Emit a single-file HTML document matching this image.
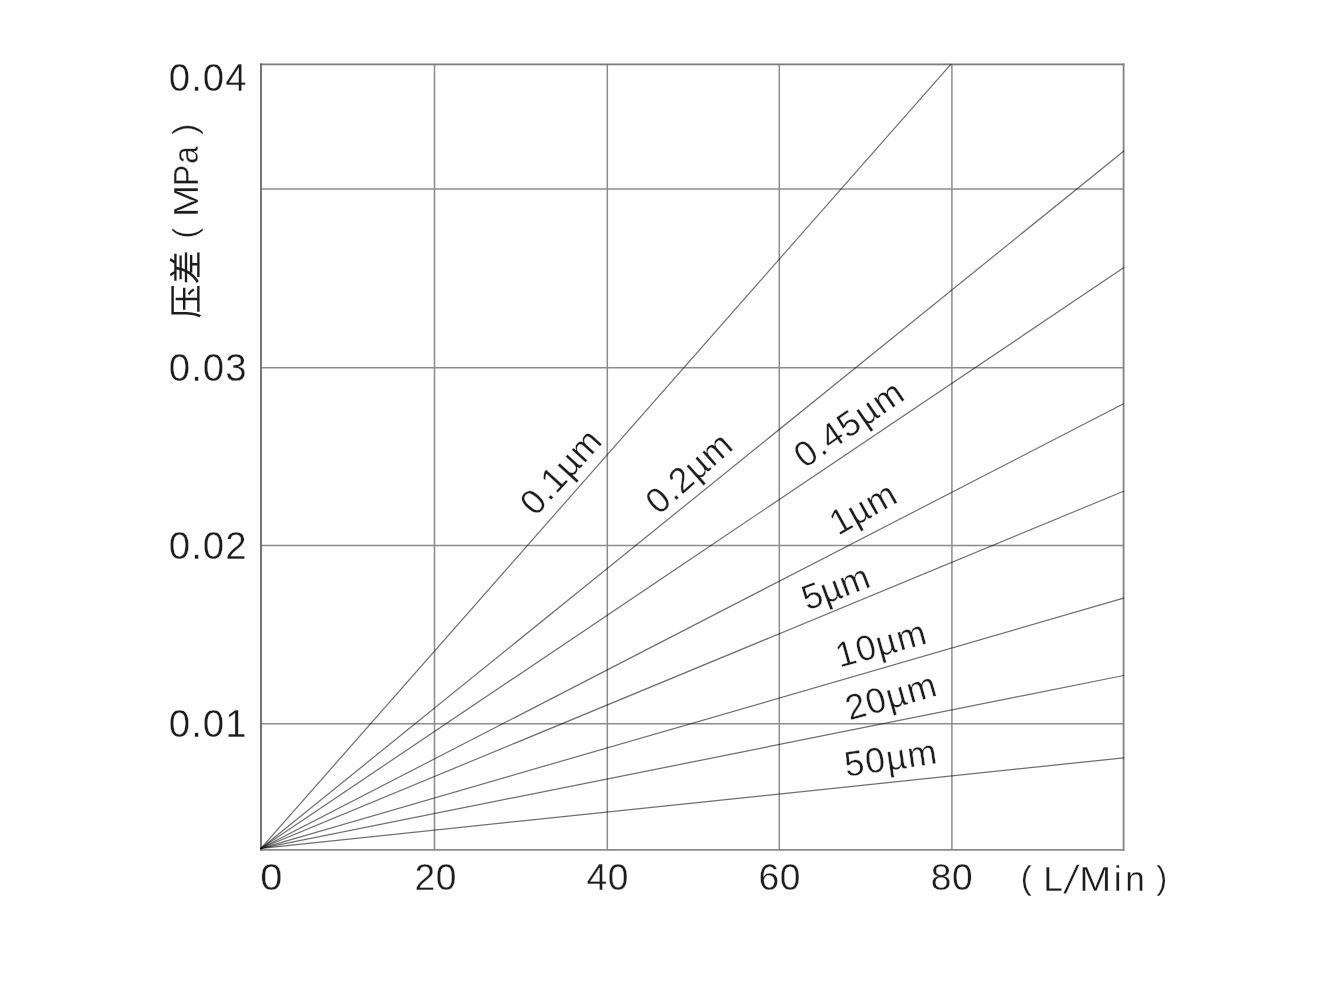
<!DOCTYPE html>
<html lang="zh">
<head>
<meta charset="utf-8">
<title>Pressure drop vs flow rate</title>
<style>
html,body{margin:0;padding:0;background:#fff;}
body{width:1338px;height:998px;overflow:hidden;font-family:"Liberation Sans",sans-serif;}
svg{display:block;}
svg text{font-family:"Liberation Sans",sans-serif;stroke:#fff;stroke-width:0.36px;stroke-linejoin:round;}
</style>
</head>
<body>
<svg width="1338" height="998" viewBox="0 0 1338 998" role="img" aria-label="压差 (MPa) vs flow (L/Min)">
<defs><filter id="soft" x="0" y="0" width="1338" height="998" filterUnits="userSpaceOnUse"><feGaussianBlur stdDeviation="0.45"/></filter></defs>
<rect width="1338" height="998" fill="#ffffff"/>
<g filter="url(#soft)">
<g fill="none" stroke="#8c8c8c" stroke-width="1.5">
<line x1="434.5" y1="64.3" x2="434.5" y2="849.9"/>
<line x1="607.3" y1="64.3" x2="607.3" y2="849.9"/>
<line x1="779.3" y1="64.3" x2="779.3" y2="849.9"/>
<line x1="951.9" y1="64.3" x2="951.9" y2="849.9"/>
<line x1="261.0" y1="189.0" x2="1123.6" y2="189.0"/>
<line x1="261.0" y1="367.7" x2="1123.6" y2="367.7"/>
<line x1="261.0" y1="545.6" x2="1123.6" y2="545.6"/>
<line x1="261.0" y1="723.8" x2="1123.6" y2="723.8"/>
</g>
<g fill="none" stroke-linecap="square">
<line x1="261.0" y1="64.3" x2="1123.6" y2="64.3" stroke="#7a7a7a" stroke-width="1.7"/>
<line x1="1123.6" y1="64.3" x2="1123.6" y2="849.9" stroke="#828282" stroke-width="1.8"/>
<line x1="261.0" y1="849.9" x2="1123.6" y2="849.9" stroke="#8a8a8a" stroke-width="1.8"/>
<line x1="261.0" y1="64.3" x2="261.0" y2="849.9" stroke="#666666" stroke-width="1.8"/>
</g>
<g fill="none" stroke="#000" stroke-opacity="0.57" stroke-width="1.22" stroke-linecap="round">
<line x1="261.0" y1="848.3" x2="950.8" y2="64.3"/>
<line x1="261.0" y1="848.3" x2="1123.6" y2="151.2"/>
<line x1="261.0" y1="848.3" x2="1123.6" y2="267.7"/>
<line x1="261.0" y1="848.3" x2="1123.6" y2="403.8"/>
<line x1="261.0" y1="848.3" x2="1123.6" y2="491.2"/>
<line x1="261.0" y1="848.3" x2="1123.6" y2="598.2"/>
<line x1="261.0" y1="848.3" x2="1123.6" y2="675.5"/>
<line x1="261.0" y1="848.3" x2="1123.6" y2="757.9"/>
</g>
<text transform="translate(168.80 91.30)" font-size="38.4" letter-spacing="1.00" fill="#1e1e1e">0.04</text>
<text transform="translate(168.80 381.00)" font-size="38.4" letter-spacing="1.00" fill="#1e1e1e">0.03</text>
<text transform="translate(168.80 559.30)" font-size="38.4" letter-spacing="1.00" fill="#1e1e1e">0.02</text>
<text transform="translate(168.80 737.10)" font-size="38.4" letter-spacing="1.00" fill="#1e1e1e">0.01</text>
<text transform="translate(260.15 889.60) scale(1.0700 1)" font-size="37.2" fill="#1e1e1e">0</text>
<text transform="translate(414.43 889.60)" font-size="37.2" letter-spacing="0.60" fill="#1e1e1e">20</text>
<text transform="translate(586.45 889.60)" font-size="37.2" letter-spacing="0.60" fill="#1e1e1e">40</text>
<text transform="translate(758.51 889.60)" font-size="37.2" letter-spacing="0.60" fill="#1e1e1e">60</text>
<text transform="translate(930.78 889.60)" font-size="37.2" letter-spacing="0.60" fill="#1e1e1e">80</text>
<text transform="translate(1020.65 889.00)" font-size="33.0" fill="#1e1e1e">(</text>
<text transform="translate(1043.31 890.60)" font-size="35.2" fill="#1e1e1e">L</text>
<text transform="translate(1063.20 893.30) skewX(-11.00)" font-size="38.9" fill="#1e1e1e">/</text>
<text transform="translate(1079.35 890.60) scale(1.0900 1)" font-size="35.2" fill="#1e1e1e">M</text>
<text transform="translate(1113.65 890.60)" font-size="35.2" fill="#1e1e1e">i</text>
<text transform="translate(1125.26 890.60)" font-size="35.2" fill="#1e1e1e">n</text>
<text transform="translate(1156.21 889.00)" font-size="33.0" fill="#1e1e1e">)</text>
<text transform="translate(535.45 517.33) rotate(-47.70)" font-size="35.3" letter-spacing="0.60" fill="#1e1e1e">0.1µm</text>
<text transform="translate(658.68 515.68) rotate(-41.60)" font-size="35.3" letter-spacing="0.72" fill="#1e1e1e">0.2µm</text>
<text transform="translate(804.44 468.89) rotate(-34.60)" font-size="35.3" letter-spacing="1.11" fill="#1e1e1e">0.45µm</text>
<text transform="translate(838.02 536.02) rotate(-29.30)" font-size="35.3" letter-spacing="0.52" fill="#1e1e1e">1µm</text>
<text transform="translate(807.23 610.77) rotate(-20.50)" font-size="35.3" letter-spacing="-0.02" fill="#1e1e1e">5µm</text>
<text transform="translate(839.57 667.67) rotate(-15.50)" font-size="35.3" letter-spacing="1.00" fill="#1e1e1e">10µm</text>
<text transform="translate(849.44 720.58) rotate(-15.80)" font-size="35.3" letter-spacing="1.20" fill="#1e1e1e">20µm</text>
<text transform="translate(846.14 776.80) rotate(-8.30)" font-size="35.3" letter-spacing="1.34" fill="#1e1e1e">50µm</text>
<g transform="translate(198.3 318.4) rotate(-90)">
<g fill="#1e1e1e" transform="scale(0.0340 -0.0340)"><title>压差</title>
<path d="M684 271C738 224 798 157 825 113L883 156C854 199 794 261 739 307ZM115 792V469C115 317 109 109 32 -39C49 -46 81 -68 94 -80C175 75 187 309 187 469V720H956V792ZM531 665V450H258V379H531V34H192V-37H952V34H607V379H904V450H607V665Z"/>
<path transform="translate(1000 0)" d="M693 842C675 803 643 747 617 708H387C371 746 337 799 303 838L238 811C262 780 287 742 304 708H105V639H440C434 609 427 581 419 553H153V486H399C388 455 377 425 364 397H60V327H329C261 207 168 114 39 49C55 34 83 1 94 -15C201 46 286 124 353 221V176H555V33H221V-37H937V33H633V176H864V246H369C386 272 401 299 415 327H940V397H447C458 425 469 455 479 486H853V553H499C507 581 513 609 520 639H902V708H700C725 741 751 780 775 817Z"/>
</g>
<text transform="translate(79.55 -2.60)" font-size="33.0" fill="#1e1e1e">(</text>
<text transform="translate(101.20 -0.40) scale(1.0830 1)" font-size="36.0" fill="#1e1e1e">M</text>
<text transform="translate(132.40 -0.40) scale(0.8800 1)" font-size="36.0" fill="#1e1e1e">P</text>
<text transform="translate(154.56 -0.40) scale(0.8750 1)" font-size="36.0" fill="#1e1e1e">a</text>
<text transform="translate(183.71 -2.60)" font-size="33.0" fill="#1e1e1e">)</text>
</g>
</g>
</svg>
</body>
</html>
